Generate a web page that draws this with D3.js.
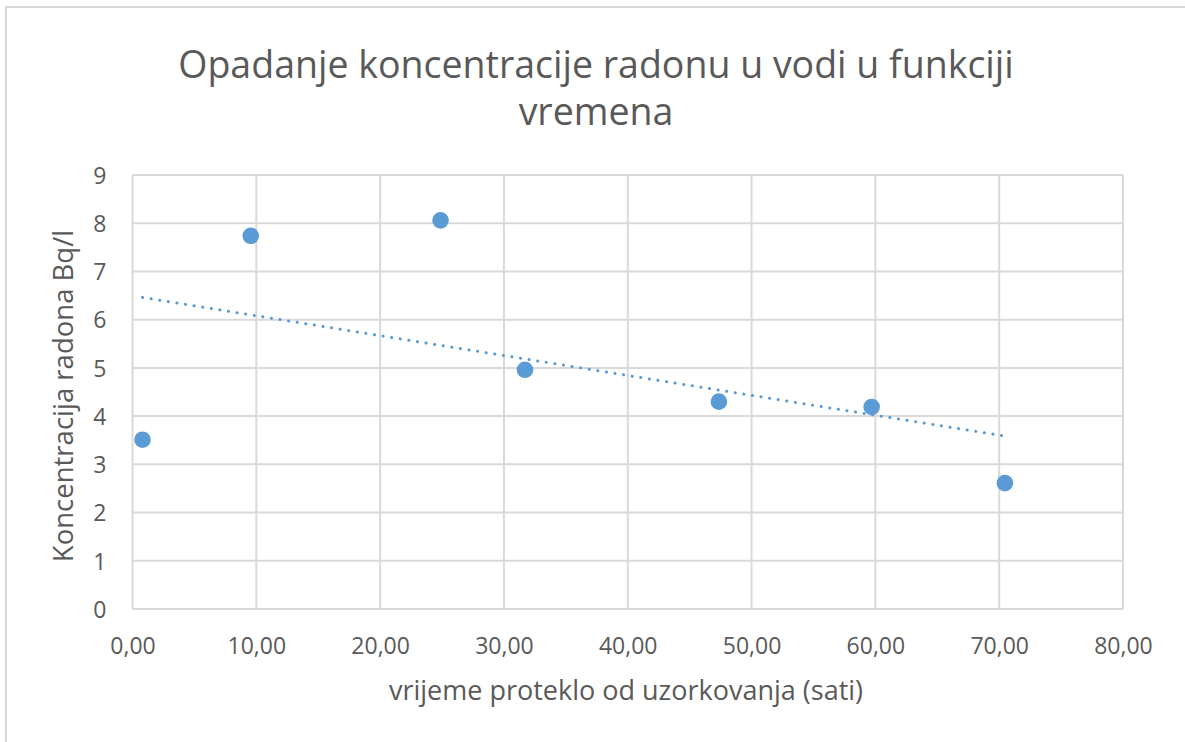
<!DOCTYPE html>
<html>
<head>
<meta charset="utf-8">
<script src="https://cdn.jsdelivr.net/npm/d3@7"></script>
<style>
  body { margin: 0; background: #fff; }
  text { font-family: "Open Sans", sans-serif; fill: #595959; }
</style>
</head>
<body>
<div id="container"></div>
<script>
// data
const hours = [0.81, 9.55, 24.88, 31.7, 47.36, 59.7, 70.46];
const radon = [3.51, 7.74, 8.06, 4.96, 4.3, 4.19, 2.61];
const xTicks = [0, 10, 20, 30, 40, 50, 60, 70, 80];
const yTicks = [0, 1, 2, 3, 4, 5, 6, 7, 8, 9];
const titleLines = ["Opadanje koncentracije radonu u vodi u funkciji", "vremena"];
const xTitle = "vrijeme proteklo od uzorkovanja (sati)";
const yTitle = "Koncentracija radona Bq/l";

const W = 1185, H = 742;
const plotL = 132.5, plotR = 1123, plotT = 175, plotB = 609;

const svg = d3.select("#container").append("svg")
  .attr("width", W).attr("height", H);

// outer chart frame (only top and left visible)
svg.append("rect")
  .attr("x", 6).attr("y", 7)
  .attr("width", W + 20).attr("height", H + 20)
  .attr("fill", "none").attr("stroke", "#d9d9d9").attr("stroke-width", 2);

const x = d3.scaleLinear().domain([0, 80]).range([plotL, plotR]);
const y = d3.scaleLinear().domain([0, 9]).range([plotB, plotT]);

// gridlines
svg.append("g").selectAll("line").data(xTicks).join("line")
  .attr("x1", d => x(d)).attr("x2", d => x(d))
  .attr("y1", plotT).attr("y2", plotB)
  .attr("stroke", "#d9d9d9").attr("stroke-width", 2);
svg.append("g").selectAll("line").data(yTicks).join("line")
  .attr("x1", plotL).attr("x2", plotR)
  .attr("y1", d => y(d)).attr("y2", d => y(d))
  .attr("stroke", "#d9d9d9").attr("stroke-width", 2);

// axes, labels only
const fmt = d => d.toFixed(2).replace(".", ",");
const xAxis = svg.append("g").attr("transform", `translate(0,${plotB})`)
  .call(d3.axisBottom(x).tickValues(xTicks).tickFormat(fmt).tickSize(0).tickPadding(29));
const yAxis = svg.append("g").attr("transform", `translate(${plotL},0)`)
  .call(d3.axisLeft(y).tickValues(yTicks).tickSize(0).tickPadding(26));
[xAxis, yAxis].forEach(a => {
  a.select(".domain").remove();
  a.selectAll("text").attr("font-size", 23).attr("fill", "#595959")
    .attr("font-family", "'Open Sans', sans-serif");
});
xAxis.selectAll("text").attr("dy", "0.71em");
yAxis.selectAll("text").attr("dy", "0.36em");

// linear trendline (least squares over the points)
const mx = d3.mean(hours), my = d3.mean(radon);
const slope = d3.sum(hours, (h, i) => (h - mx) * (radon[i] - my)) / d3.sum(hours, h => (h - mx) ** 2);
const icpt = my - slope * mx;
const ext = d3.extent(hours);
svg.append("path")
  .datum(ext.map(h => [h, icpt + slope * h]))
  .attr("d", d3.line().x(d => x(d[0])).y(d => y(d[1])))
  .attr("fill", "none").attr("stroke", "#5b9bd5")
  .attr("stroke-width", 3).attr("stroke-linecap", "round")
  .attr("stroke-dasharray", "0.1 8.6");

// points
svg.append("g").selectAll("circle").data(hours).join("circle")
  .attr("cx", d => x(d)).attr("cy", (d, i) => y(radon[i]))
  .attr("r", 8.3).attr("fill", "#5b9bd5");

// titles
svg.append("text").attr("text-anchor", "middle")
  .attr("font-size", 37.5).attr("fill", "#595959")
  .selectAll("tspan").data(titleLines).join("tspan")
  .attr("x", 596).attr("y", (d, i) => 78 + i * 47).text(d => d);

svg.append("text").attr("text-anchor", "middle")
  .attr("x", 626).attr("y", 700).attr("font-size", 27)
  .text(xTitle);

svg.append("text").attr("text-anchor", "middle")
  .attr("transform", "translate(73,396) rotate(-90)")
  .attr("font-size", 27.5)
  .text(yTitle);
</script>
</body>
</html>
